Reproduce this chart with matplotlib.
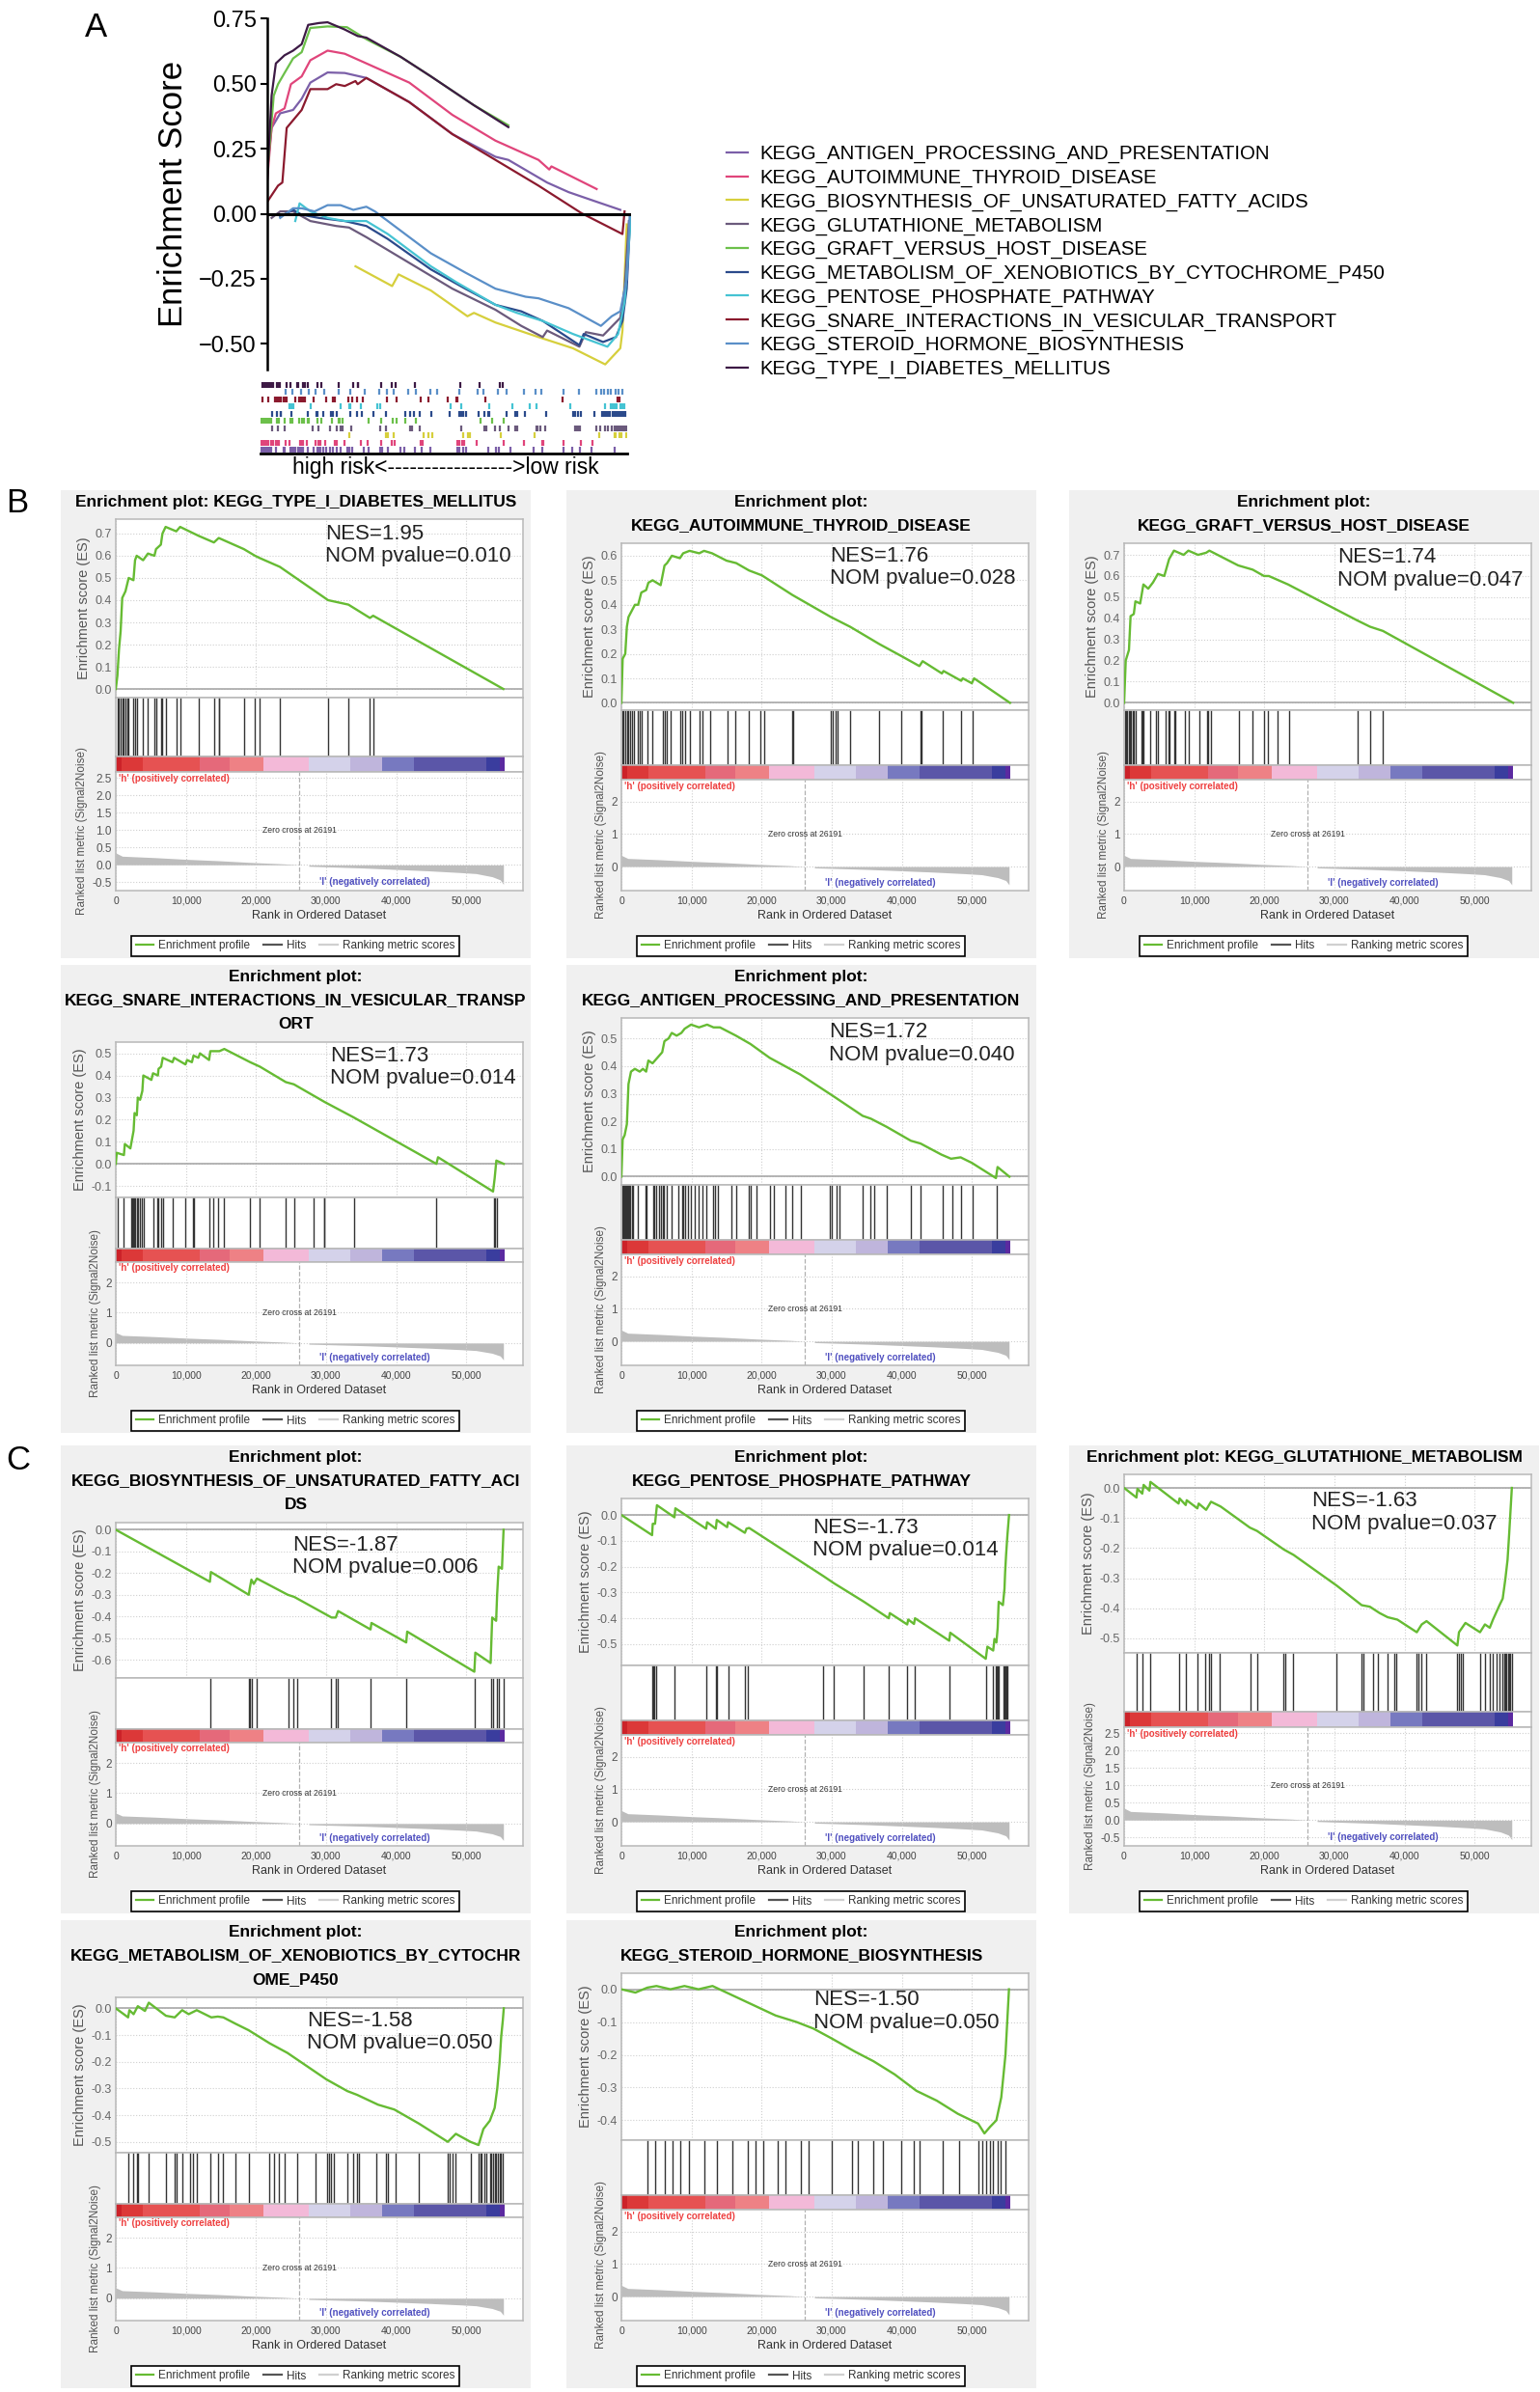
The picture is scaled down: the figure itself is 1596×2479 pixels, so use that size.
import numpy as np
import matplotlib
matplotlib.use("Agg")
import matplotlib.pyplot as plt
from matplotlib.lines import Line2D
from matplotlib.patches import Rectangle
from matplotlib.ticker import MultipleLocator, FuncFormatter

plt.rcParams['font.family'] = ['Liberation Sans', 'DejaVu Sans']

# ---------------- data ----------------
# ranked list metric (Signal2Noise), same in every GSEA plot
metric_rank_pos = [0, 920, 3210, 5510, 10100, 14690, 19280, 23870, 26191]
metric_pos = [0.345, 0.25, 0.23, 0.21, 0.16, 0.12, 0.07, 0.03, 0.0]
metric_rank_neg = [27540, 30750, 35340, 39930, 44520, 49110, 51410, 53700, 54850, 55310]
metric_neg = [-0.04, -0.06, -0.09, -0.13, -0.17, -0.22, -0.25, -0.34, -0.43, -0.56]
zero_cross = 26191

# colour strip under the hits
bar_start = [0, 800, 3900, 12000, 16300, 21000, 27600, 33500, 38000, 42500, 52800, 54800]
bar_end = [800, 3900, 12000, 16300, 21000, 27600, 33500, 38000, 42500, 52800, 54800, 55500]
bar_colors = ['#cc2229', '#dc3838', '#e65252', '#e5697a', '#ee8185', '#f3b9d8',
              '#d4d2ea', '#bfb5dc', '#7779c0', '#5b56a8', '#3a3d9e', '#5b2aa0']

# --- per gene set: running ES (rank, ES), hit ranks
type1_rank = [0, 230, 460, 690, 920, 1380, 1840, 2520, 2750, 2980, 3900, 4590, 5510, 5740, 6430, 6660,
              7110, 8630, 9180, 11800, 14000, 14690, 18270, 19870, 20520, 23410, 30290, 33190, 36260,
              36720, 55300]
type1_es = [0, 0.06, 0.18, 0.26, 0.41, 0.44, 0.50, 0.49, 0.58, 0.60, 0.58, 0.61, 0.60, 0.63, 0.65, 0.70,
            0.73, 0.71, 0.73, 0.69, 0.66, 0.68, 0.63, 0.60, 0.59, 0.55, 0.40, 0.38, 0.32, 0.33, 0.0]
type1_hits = [230, 460, 690, 920, 1150, 1380, 1610, 1840, 2520, 2750, 2980, 3900, 4590, 5510, 5740, 6430,
              6660, 7110, 8630, 9180, 11800, 14000, 14690, 14780, 18270, 19870, 20520, 23410, 30290,
              33190, 36260, 36720]

auto_rank = [0, 180, 550, 780, 1010, 1560, 1930, 2390, 2840, 3530, 3850, 4450, 5600, 6150, 6510, 7200,
             8350, 8810, 9720, 11100, 11790, 12940, 15000, 16380, 18210, 20050, 24400, 29900, 32660,
             36790, 40000, 42520, 42980, 45730, 45960, 48480, 48710, 50000, 50320, 55450]
auto_es = [0, 0.18, 0.20, 0.31, 0.35, 0.38, 0.40, 0.40, 0.45, 0.46, 0.49, 0.50, 0.48, 0.56, 0.57, 0.60,
           0.59, 0.61, 0.62, 0.61, 0.62, 0.61, 0.58, 0.57, 0.54, 0.52, 0.44, 0.35, 0.31, 0.24, 0.19, 0.15,
           0.17, 0.12, 0.13, 0.09, 0.10, 0.08, 0.10, 0.0]
auto_hits = [90, 320, 550, 780, 1010, 1240, 1560, 1830, 2390, 2610, 2840, 3760, 4450, 5960, 6150, 6420,
             7060, 8350, 8720, 9040, 9720, 11190, 11560, 12710, 15140, 16240, 18210, 19820, 20370,
             24310, 24490, 29820, 30140, 30590, 30820, 32660, 36790, 39910, 42660, 42750, 45870,
             48490, 50180]

graft_rank = [0, 230, 690, 920, 1380, 1610, 2290, 2750, 3440, 4130, 4820, 5730, 6420, 7110, 8490, 9170,
              10550, 11700, 12160, 16280, 18350, 19950, 20640, 23390, 33250, 35090, 36930, 55500]
graft_es = [0, 0.20, 0.25, 0.41, 0.42, 0.48, 0.47, 0.56, 0.54, 0.57, 0.61, 0.60, 0.68, 0.72, 0.70, 0.72,
            0.70, 0.71, 0.72, 0.65, 0.63, 0.60, 0.60, 0.56, 0.39, 0.36, 0.34, 0.0]
graft_hits = [92, 275, 459, 642, 826, 1009, 1193, 1376, 1651, 2431, 2614, 2752, 3670, 4587, 4816, 5871,
              6330, 6514, 7110, 7248, 8623, 9265, 10780, 11790, 12020, 12390, 16330, 18260, 19950,
              20550, 21930, 23530, 33250, 35090, 36840]

snare_rank = [0, 140, 1160, 1290, 2080, 2310, 2540, 2680, 3000, 3140, 3470, 3790, 3930, 5080, 5310,
              6010, 6100, 6470, 6700, 8090, 8320, 9940, 10170, 10860, 11090, 11780, 12010, 13310,
              13490, 14790, 15480, 19180, 20560, 24260, 25410, 29800, 33960, 45750, 45980, 53830,
              54060, 54300, 55360]
snare_es = [0, 0.05, 0.04, 0.09, 0.07, 0.11, 0.15, 0.23, 0.22, 0.30, 0.29, 0.33, 0.40, 0.38, 0.41, 0.40,
            0.43, 0.44, 0.48, 0.46, 0.48, 0.45, 0.47, 0.46, 0.49, 0.48, 0.50, 0.47, 0.51, 0.51, 0.52,
            0.46, 0.44, 0.37, 0.36, 0.28, 0.21, 0.0, 0.03, -0.125, -0.065, 0.015, 0.0]
snare_hits = [230, 1160, 2170, 2310, 2450, 2590, 2770, 3000, 3140, 3470, 3700, 3930, 5310, 5910, 6100,
              6470, 6700, 8090, 9940, 10990, 11180, 13310, 13860, 14560, 15480, 19180, 20560, 24260,
              25410, 28280, 29670, 29800, 33960, 45750, 53970, 54160, 54340]

antigen_rank = [0, 180, 460, 780, 1010, 1370, 1920, 2610, 3070, 3530, 3850, 4440, 5130, 5820, 6140,
                6730, 7190, 7880, 8560, 9020, 9940, 11080, 12230, 13140, 14060, 16350, 18410, 21150,
                25500, 30310, 34430, 35580, 37870, 41300, 42680, 45650, 47030, 48400, 50000, 53440,
                53670, 55360]
antigen_es = [0, 0.135, 0.15, 0.19, 0.335, 0.38, 0.39, 0.38, 0.39, 0.38, 0.42, 0.41, 0.43, 0.45, 0.49,
              0.50, 0.52, 0.51, 0.52, 0.535, 0.55, 0.54, 0.55, 0.54, 0.54, 0.51, 0.48, 0.43, 0.37, 0.29,
              0.22, 0.21, 0.18, 0.13, 0.12, 0.08, 0.065, 0.07, 0.05, -0.005, 0.035, 0.0]
antigen_hits = [92, 275, 412, 550, 687, 824, 962, 1099, 1282, 1465, 1648, 2381, 3480, 3618, 4533, 4716,
                4991, 5311, 5632, 5907, 6090, 6456, 7143, 8059, 8654, 8837, 9112, 9433, 9891, 10480,
                10990, 11540, 12090, 13140, 13370, 13830, 15660, 16350, 18180, 18410, 19330, 21250,
                21700, 23440, 24360, 25640, 29760, 30080, 30680, 31130, 34430, 35580, 36030, 37870,
                41300, 42680, 45790, 47160, 48400, 50090, 53570]

biosyn_rank = [0, 13430, 13570, 18980, 19120, 19350, 19680, 20140, 24540, 25470, 30790, 31390, 31720,
               36350, 36480, 41440, 41580, 51160, 51300, 53480, 53710, 54270, 54410, 54630, 55100, 55330]
biosyn_es = [0, -0.24, -0.195, -0.30, -0.27, -0.23, -0.25, -0.225, -0.30, -0.31, -0.405, -0.405, -0.375,
             -0.46, -0.43, -0.52, -0.47, -0.655, -0.567, -0.615, -0.405, -0.42, -0.30, -0.17, -0.18, 0.0]
biosyn_hits = [13430, 18980, 19120, 19350, 20140, 24630, 25370, 25930, 30700, 31390, 31720, 36350,
               41440, 51250, 53570, 53800, 54400, 54630, 55330]

pentose_rank = [0, 4380, 4470, 4800, 4940, 5070, 7570, 7700, 12090, 12230, 13470, 13610, 15090, 15220,
                17620, 17850, 18220, 28780, 30310, 34600, 38150, 38290, 40780, 40920, 41750, 41890,
                46780, 46920, 51990, 52220, 53050, 53230, 53510, 53690, 53830, 54430, 54660, 54750,
                54890, 55080, 55310]
pentose_es = [0, -0.078, -0.034, -0.034, 0.004, 0.038, -0.009, 0.026, -0.053, -0.028, -0.053, -0.019,
              -0.047, -0.028, -0.069, -0.053, -0.050, -0.236, -0.264, -0.336, -0.40, -0.38, -0.424,
              -0.405, -0.422, -0.40, -0.487, -0.456, -0.557, -0.51, -0.525, -0.48, -0.494, -0.437,
              -0.336, -0.349, -0.286, -0.223, -0.154, -0.078, 0.0]
pentose_hits = [4340, 4520, 4710, 4940, 7570, 12090, 13470, 13650, 15220, 17620, 18080, 28830, 30310,
                34600, 38150, 40780, 41840, 46830, 52080, 53050, 53370, 53600, 53690, 53830, 54520,
                54660, 54800, 54890, 54980, 55120]

gluta_rank = [0, 1760, 1900, 2590, 2780, 3610, 3750, 7770, 7910, 8790, 8930, 10450, 10640, 11700,
              12400, 13780, 17940, 18960, 22800, 24190, 30340, 33900, 35060, 36440, 37600, 38990,
              41760, 42460, 43150, 47550, 47780, 48700, 50780, 51480, 52170, 52630, 53560, 54020,
              54390, 54710, 54940, 55180, 55320]
gluta_es = [0, -0.032, -0.003, -0.019, 0.010, -0.009, 0.020, -0.052, -0.035, -0.057, -0.041, -0.068,
            -0.052, -0.073, -0.046, -0.062, -0.132, -0.143, -0.205, -0.223, -0.325, -0.39, -0.395,
            -0.416, -0.43, -0.438, -0.48, -0.454, -0.443, -0.524, -0.48, -0.449, -0.48, -0.454, -0.465,
            -0.438, -0.39, -0.368, -0.304, -0.239, -0.153, -0.057, 0.0]
gluta_hits = [1760, 2680, 3700, 7860, 8830, 10450, 11610, 12160, 12400, 13690, 18040, 18960, 22660,
              22940, 24050, 30340, 33900, 34130, 35520, 36210, 37600, 38520, 38850, 41760, 41990,
              42360, 43150, 47550, 47780, 48010, 48380, 50780, 51480, 52170, 52630, 53100, 53560,
              53930, 54210, 54390, 54580, 54760, 54950, 55130, 55320]

xeno_rank = [0, 1760, 1940, 2540, 3140, 4160, 4710, 7160, 8410, 9470, 10400, 11550, 13630, 14560,
             15340, 17100, 18950, 21950, 24490, 30040, 33040, 34430, 37430, 39740, 43210, 47370, 48520,
             50600, 51760, 52450, 53370, 54060, 54430, 54760, 54990, 55220, 55360]
xeno_es = [0, -0.034, -0.007, -0.022, 0.008, -0.010, 0.021, -0.028, -0.034, -0.007, -0.022, -0.007,
           -0.034, -0.031, -0.034, -0.058, -0.082, -0.131, -0.167, -0.266, -0.31, -0.324, -0.361,
           -0.379, -0.431, -0.50, -0.47, -0.50, -0.512, -0.452, -0.421, -0.373, -0.30, -0.203, -0.107,
           -0.046, 0.0]
xeno_hits = [1760, 2540, 3000, 3140, 4710, 7160, 8410, 8690, 9470, 10630, 11000, 11550, 13540, 14560,
             15340, 17100, 18950, 21950, 22640, 23200, 24030, 25880, 28560, 30130, 30410, 30730, 31050,
             33040, 33820, 34430, 34660, 37200, 38580, 38810, 39970, 43210, 47370, 47600, 48060, 48430,
             50600, 51760, 51990, 52220, 52590, 52910, 53370, 53600, 53830, 54060, 54290, 54520, 54760,
             54990, 55220]

steroid_rank = [0, 2000, 3700, 5000, 7000, 9000, 11000, 13000, 15000, 18000, 20000, 22000, 25000,
                27400, 30000, 33300, 36000, 39000, 42100, 45000, 48000, 50900, 51800, 52600, 53500,
                54200, 54800, 55300]
steroid_es = [0, -0.01, 0.005, 0.01, 0.0, 0.01, 0.0, 0.01, -0.01, -0.04, -0.06, -0.08, -0.10, -0.12,
              -0.15, -0.19, -0.22, -0.26, -0.31, -0.34, -0.38, -0.41, -0.44, -0.42, -0.40, -0.33,
              -0.20, 0.0]
steroid_hits = [3730, 4820, 6140, 7240, 8330, 9650, 11840, 13600, 15790, 17980, 19080, 20180, 22370,
                23470, 25660, 26750, 30040, 32900, 33770, 35970, 37280, 39910, 41670, 42540, 45830,
                48250, 50880, 51540, 51980, 52640, 53070, 53730, 54170, 54830]

# panel A: combined running ES curves (rank, ES) as drawn in the overview
a_antigen_rank = [0, 660, 1970, 3940, 5250, 6570, 9200, 11820, 15110, 21670, 28240, 34810, 36780,
                  42690, 45980, 50250, 53860]
a_antigen_es = [0.170, 0.330, 0.386, 0.399, 0.442, 0.504, 0.543, 0.541, 0.522, 0.429, 0.306, 0.219,
                0.207, 0.120, 0.083, 0.046, 0.015]
a_auto_rank = [0, 660, 1310, 2630, 3610, 5250, 6570, 9200, 11820, 15110, 21670, 28240, 34810, 41380,
               43020, 43350, 50250]
a_auto_es = [0.132, 0.330, 0.386, 0.405, 0.498, 0.528, 0.590, 0.627, 0.615, 0.578, 0.504, 0.380, 0.281,
             0.207, 0.170, 0.182, 0.095]
a_biosyn_rank = [13460, 19050, 20030, 24960, 30540, 31530, 34810, 41380, 46630, 51560, 53860, 54190,
                 54840]
a_biosyn_es = [-0.202, -0.278, -0.233, -0.295, -0.394, -0.381, -0.418, -0.474, -0.517, -0.579, -0.517,
               -0.449, -0.041]
a_gluta_rank = [660, 1970, 3940, 6570, 10510, 12480, 15110, 21670, 28240, 34810, 38750, 42030, 42690,
                47620, 48600, 51230, 53860, 54510, 55170]
a_gluta_es = [-0.016, 0.009, 0.009, -0.028, -0.047, -0.053, -0.090, -0.189, -0.288, -0.369, -0.431,
              -0.474, -0.449, -0.511, -0.455, -0.468, -0.400, -0.288, -0.028]
a_graft_rank = [0, 985, 1640, 2630, 3940, 5250, 6560, 9200, 12150, 15110, 20360, 24960, 31530, 36780]
a_graft_es = [0.157, 0.454, 0.498, 0.541, 0.597, 0.621, 0.714, 0.720, 0.717, 0.671, 0.603, 0.528,
              0.417, 0.340]
a_xeno_rank = [1970, 3940, 5250, 7880, 11820, 15110, 18390, 24960, 30210, 34810, 38750, 42030, 47620,
               48270, 51230, 53200, 54190, 54840, 55370]
a_xeno_es = [-0.010, 0.015, -0.004, -0.016, -0.028, -0.047, -0.097, -0.214, -0.288, -0.350, -0.375,
             -0.412, -0.505, -0.462, -0.493, -0.474, -0.412, -0.288, -0.016]
a_pentose_rank = [4270, 4930, 6570, 9200, 11820, 15110, 18390, 21670, 24960, 28900, 34810, 38090,
                  42030, 46630, 51890, 53530, 54520, 55170, 55500]
a_pentose_es = [-0.028, 0.040, 0.009, -0.016, -0.028, -0.028, -0.078, -0.140, -0.202, -0.264, -0.350,
                -0.381, -0.412, -0.462, -0.511, -0.462, -0.338, -0.115, -0.004]
a_snare_rank = [0, 1640, 2300, 2960, 5250, 6570, 9200, 10510, 11820, 13460, 13790, 15110, 21670,
                28240, 34810, 41380, 47950, 54190, 54510]
a_snare_es = [0.046, 0.108, 0.120, 0.330, 0.399, 0.479, 0.479, 0.498, 0.491, 0.510, 0.498, 0.522,
              0.429, 0.306, 0.207, 0.108, 0.002, -0.078, 0.009]
a_steroid_rank = [1970, 3940, 5250, 7220, 9200, 11170, 13130, 15110, 16420, 18390, 21670, 24960,
                  30210, 34810, 39410, 41380, 45980, 50900, 52550, 53860, 54840, 55300]
a_steroid_es = [-0.016, 0.021, 0.021, 0.009, 0.033, 0.033, 0.015, 0.027, 0.009, -0.028, -0.090,
                -0.152, -0.226, -0.288, -0.319, -0.325, -0.363, -0.431, -0.394, -0.375, -0.251, -0.004]
a_type1_rank = [0, 660, 1310, 2630, 3940, 5250, 6240, 7880, 9200, 11820, 13790, 15110, 20360, 24960,
                31530, 36780]
a_type1_es = [0.132, 0.454, 0.578, 0.609, 0.627, 0.652, 0.726, 0.733, 0.736, 0.708, 0.683, 0.677,
              0.603, 0.528, 0.417, 0.333]

set_names = ['KEGG_ANTIGEN_PROCESSING_AND_PRESENTATION', 'KEGG_AUTOIMMUNE_THYROID_DISEASE',
             'KEGG_BIOSYNTHESIS_OF_UNSATURATED_FATTY_ACIDS', 'KEGG_GLUTATHIONE_METABOLISM',
             'KEGG_GRAFT_VERSUS_HOST_DISEASE', 'KEGG_METABOLISM_OF_XENOBIOTICS_BY_CYTOCHROME_P450',
             'KEGG_PENTOSE_PHOSPHATE_PATHWAY', 'KEGG_SNARE_INTERACTIONS_IN_VESICULAR_TRANSPORT',
             'KEGG_STEROID_HORMONE_BIOSYNTHESIS', 'KEGG_TYPE_I_DIABETES_MELLITUS']
set_colors = ['#7b5fa8', '#e0457b', '#d6cf3c', '#6b5a7c', '#6cc04a', '#2b4a8b', '#45c3d3',
              '#8b1a2e', '#5a8fc8', '#3d1a45']

nes_values = ['1.95', '1.76', '1.74', '1.73', '1.72', '-1.87', '-1.73', '-1.63', '-1.58', '-1.50']
p_values = ['0.010', '0.028', '0.047', '0.014', '0.040', '0.006', '0.014', '0.037', '0.050', '0.050']

# ---------------- figure ----------------
W, H = 1596, 2479
fig = plt.figure(figsize=(W / 100, H / 100), dpi=100)
GREEN = '#66bb33'


def px_axes(x0, y0, w, h):
    return fig.add_axes([x0 / W, 1 - (y0 + h) / H, w / W, h / H])


# ---- panel A ----
a_curves = [(a_antigen_rank, a_antigen_es), (a_auto_rank, a_auto_es), (a_biosyn_rank, a_biosyn_es),
            (a_gluta_rank, a_gluta_es), (a_graft_rank, a_graft_es), (a_xeno_rank, a_xeno_es),
            (a_pentose_rank, a_pentose_es), (a_snare_rank, a_snare_es),
            (a_steroid_rank, a_steroid_es), (a_type1_rank, a_type1_es)]

ax_a = px_axes(277, 19.3, 377, 364)
handles = []
for (rk, es), name, col in zip(a_curves, set_names, set_colors):
    ln, = ax_a.plot(rk, es, color=col, lw=1.6, label=name)
    handles.append(ln)
ax_a.axhline(0, color='black', lw=2.2)
ax_a.set_xlim(0, 55500)
ax_a.set_ylim(-0.6, 0.75)
for s in ['top', 'right', 'bottom']:
    ax_a.spines[s].set_visible(False)
ax_a.spines['left'].set_linewidth(1.8)
ax_a.set_xticks([])
ax_a.set_yticks([-0.5, -0.25, 0, 0.25, 0.5, 0.75])
ax_a.yaxis.set_major_formatter(FuncFormatter(lambda v, p: f'{v:.2f}'.replace('-', '\u2212')))
ax_a.tick_params(axis='y', labelsize=17, length=5, width=1.5, pad=3)
ax_a.set_ylabel('Enrichment Score', fontsize=25)
ax_a.yaxis.set_label_coords(-0.215, 0.5)
ax_a.patch.set_alpha(0)

# hit strip under panel A, rows bottom->top follow the legend order
hits_all = [antigen_hits, auto_hits, biosyn_hits, gluta_hits, graft_hits, xeno_hits, pentose_hits,
            snare_hits, steroid_hits, type1_hits]
ax_s = px_axes(270, 395, 380, 75)
for k, (hh, col) in enumerate(zip(hits_all, set_colors)):
    ax_s.vlines(hh, k + 0.1, k + 0.9, color=col, lw=1.6)
ax_s.set_xlim(0, 55500)
ax_s.set_ylim(0, 10)
ax_s.set_xticks([])
ax_s.set_yticks([])
for s in ['top', 'right', 'left']:
    ax_s.spines[s].set_visible(False)
ax_s.spines['bottom'].set_linewidth(2)
ax_s.patch.set_alpha(0)
fig.text(462 / W, 1 - 485 / H, 'high risk<----------------->low risk', ha='center', va='center',
         fontsize=16.5)

fig.legend(handles, set_names, loc='upper left', bbox_to_anchor=(753 / W, 1 - 150 / H),
           frameon=False, borderpad=0, borderaxespad=0, handlelength=1.08, handletextpad=0.6,
           labelspacing=0.27, fontsize=14.7)

for lab, x, y in [('A', 88, 12), ('B', 6, 505), ('C', 6, 1497)]:
    fig.text(x / W, 1 - y / H, lab, fontsize=25, va='top', ha='left')

# ---- GSEA panels ----
BOX_W, BOX_H = 487, 485
FRAME_L, FRAME_R, FRAME_B = 57, 479, 415
XMAX = 58100


def gsea_panel(bx, by, title, es_rank, es_vals, hits, nes, pval, es_lim, nes_xy, fine_metric):
    fig.add_artist(Rectangle((bx / W, 1 - (by + BOX_H) / H), BOX_W / W, BOX_H / H,
                             transform=fig.transFigure, facecolor='#f0f0f0', edgecolor='none',
                             zorder=-1))
    lines = title.split('\n')
    for i, t in enumerate(lines):
        fig.text((bx + BOX_W / 2) / W, 1 - (by + 12.5 + 24.5 * i) / H, t, ha='center', va='center',
                 fontsize=12.5, fontweight='bold')
    top = by + 30 + 25 * (len(lines) - 1)
    total = by + FRAME_B - top
    h_es, h_hit, h_bar = total * 0.48, total * 0.16, total * 0.04
    h_met = total - h_es - h_hit - h_bar
    x0, wd = bx + FRAME_L, FRAME_R - FRAME_L
    ax_es = px_axes(x0, top, wd, h_es)
    ax_hit = px_axes(x0, top + h_es, wd, h_hit)
    ax_bar = px_axes(x0, top + h_es + h_hit, wd, h_bar)
    ax_met = px_axes(x0, top + h_es + h_hit + h_bar, wd, h_met)

    for ax in [ax_es, ax_hit, ax_bar, ax_met]:
        ax.set_xlim(0, XMAX)
        for s in ax.spines.values():
            s.set_color('#b8b8b8')
            s.set_linewidth(1.1)
        ax.xaxis.set_major_locator(MultipleLocator(10000))
        ax.tick_params(length=0, colors='#555555')

    # running enrichment score
    ax_es.plot(es_rank, es_vals, color=GREEN, lw=1.7, zorder=3)
    ax_es.axhline(0, color='#a8a8a8', lw=1.2, zorder=2)
    ax_es.set_ylim(*es_lim)
    ax_es.yaxis.set_major_locator(MultipleLocator(0.1))
    ax_es.yaxis.set_major_formatter(FuncFormatter(lambda v, p: f'{round(v, 2) + 0.0:.1f}'))
    ax_es.tick_params(axis='y', labelsize=9, labelcolor='#666666', pad=3)
    ax_es.tick_params(axis='x', labelbottom=False)
    ax_es.grid(True, ls=':', color='#cfcfcf', lw=0.8)
    ax_es.set_ylabel('Enrichment score (ES)', fontsize=10.5, color='#555555', labelpad=3)
    ax_es.text(nes_xy[0], nes_xy[1], f'NES={nes}\nNOM pvalue={pval}', transform=ax_es.transAxes,
               ha='left', va='top', fontsize=16, linespacing=1.15, color='#222222')

    # hits
    ax_hit.vlines(hits, 0, 1, color='#333333', lw=1.0)
    ax_hit.set_ylim(0, 1)
    ax_hit.set_xticks([])
    ax_hit.set_yticks([])

    # colour strip
    ax_bar.barh(0, np.array(bar_end) - np.array(bar_start), left=bar_start, height=1,
                color=bar_colors, lw=0)
    ax_bar.set_ylim(-0.5, 0.5)
    ax_bar.set_xticks([])
    ax_bar.set_yticks([])

    # ranked list metric
    ax_met.fill_between(metric_rank_pos, 0, metric_pos, color='#bdbdbd', lw=0)
    ax_met.fill_between(metric_rank_neg, 0, metric_neg, color='#bdbdbd', lw=0)
    ax_met.axvline(zero_cross, color='#b0b0b0', ls='--', lw=0.9)
    ax_met.set_ylim(-0.74, 2.68)
    if fine_metric:
        ax_met.yaxis.set_major_locator(MultipleLocator(0.5))
        ax_met.yaxis.set_major_formatter(FuncFormatter(lambda v, p: f'{v:.1f}'))
    else:
        ax_met.set_yticks([0, 1, 2])
        ax_met.yaxis.set_major_formatter(FuncFormatter(lambda v, p: f'{v:.0f}'))
    ax_met.set_xticks([0, 10000, 20000, 30000, 40000, 50000])
    ax_met.xaxis.set_major_formatter(FuncFormatter(lambda v, p: f'{int(v):,}'))
    ax_met.tick_params(axis='y', labelsize=8.5, labelcolor='#555555', pad=3)
    ax_met.tick_params(axis='x', labelsize=7.5, labelcolor='#444444', pad=4)
    ax_met.grid(True, ls=':', color='#cfcfcf', lw=0.8)
    ax_met.set_ylabel('Ranked list metric (Signal2Noise)', fontsize=8.5, color='#555555', labelpad=3)
    ax_met.set_xlabel('Rank in Ordered Dataset', fontsize=9, color='#333333', labelpad=3)
    ax_met.text(0.008, 0.985, "'h' (positively correlated)", transform=ax_met.transAxes,
                ha='left', va='top', fontsize=7, color='#ee4040', fontweight='bold')
    ax_met.text(37000, -0.5, "'l' (negatively correlated)", ha='center', va='center',
                fontsize=7, color='#5050c0', fontweight='bold')
    ax_met.text(zero_cross, 1.0, 'Zero cross at 26191', ha='center', va='center', fontsize=6.2,
                color='#333333')

    leg_handles = [Line2D([], [], color=GREEN, lw=1.6), Line2D([], [], color='#555555', lw=1.6),
                   Line2D([], [], color='#d0d0d0', lw=1.6)]
    leg = ax_met.legend(leg_handles, ['Enrichment profile', 'Hits', 'Ranking metric scores'],
                        loc='center', bbox_to_anchor=((bx + 243) / W, 1 - (by + 472.5) / H),
                        bbox_transform=fig.transFigure, ncol=3, fontsize=8.5, frameon=True,
                        fancybox=False, edgecolor='black', framealpha=1, handlelength=1.6,
                        handletextpad=0.4, columnspacing=1.2, borderpad=0.35)
    leg.get_frame().set_linewidth(1.2)
    for t in leg.get_texts():
        t.set_color('#333333')


panels = [
    (63, 508, 'Enrichment plot: KEGG_TYPE_I_DIABETES_MELLITUS', type1_rank, type1_es, type1_hits,
     (-0.038, 0.765), (0.514, 0.975), True),
    (587, 508, 'Enrichment plot:\nKEGG_AUTOIMMUNE_THYROID_DISEASE', auto_rank, auto_es, auto_hits,
     (-0.029, 0.651), (0.512, 0.985), False),
    (1108, 508, 'Enrichment plot:\nKEGG_GRAFT_VERSUS_HOST_DISEASE', graft_rank, graft_es, graft_hits,
     (-0.034, 0.755), (0.524, 0.975), False),
    (63, 1000, 'Enrichment plot:\nKEGG_SNARE_INTERACTIONS_IN_VESICULAR_TRANSP\nORT', snare_rank,
     snare_es, snare_hits, (-0.151, 0.551), (0.526, 0.978), False),
    (587, 1000, 'Enrichment plot:\nKEGG_ANTIGEN_PROCESSING_AND_PRESENTATION', antigen_rank,
     antigen_es, antigen_hits, (-0.029, 0.574), (0.51, 0.975), False),
    (63, 1498, 'Enrichment plot:\nKEGG_BIOSYNTHESIS_OF_UNSATURATED_FATTY_ACI\nDS', biosyn_rank,
     biosyn_es, biosyn_hits, (-0.683, 0.033), (0.434, 0.92), False),
    (587, 1498, 'Enrichment plot:\nKEGG_PENTOSE_PHOSPHATE_PATHWAY', pentose_rank, pentose_es,
     pentose_hits, (-0.582, 0.064), (0.469, 0.884), False),
    (1108, 1498, 'Enrichment plot: KEGG_GLUTATHIONE_METABOLISM', gluta_rank, gluta_es, gluta_hits,
     (-0.548, 0.045), (0.46, 0.906), True),
    (63, 1990, 'Enrichment plot:\nKEGG_METABOLISM_OF_XENOBIOTICS_BY_CYTOCHR\nOME_P450', xeno_rank,
     xeno_es, xeno_hits, (-0.540, 0.041), (0.469, 0.916), False),
    (587, 1990, 'Enrichment plot:\nKEGG_STEROID_HORMONE_BIOSYNTHESIS', steroid_rank, steroid_es,
     steroid_hits, (-0.46, 0.049), (0.471, 0.90), False),
]

for (bx, by, title, rk, es, hh, lim, nxy, fine), nes, pv in zip(panels, nes_values, p_values):
    gsea_panel(bx, by, title, rk, es, hh, nes, pv, lim, nxy, fine)

fig.savefig('out.png', dpi=100, facecolor='white')
